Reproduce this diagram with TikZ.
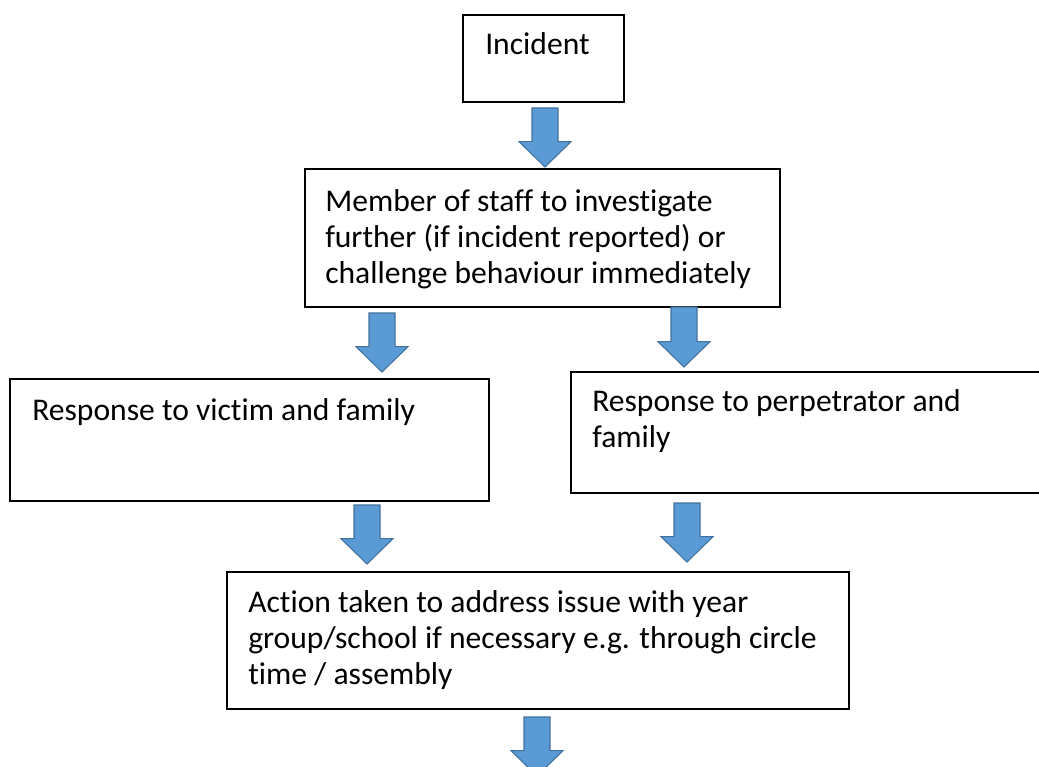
\documentclass[tikz,border=0pt]{standalone}
\usepackage{fontspec}
\setmainfont[Ligatures=NoCommon]{Carlito}
\usepackage{tikz}
\usetikzlibrary{calc}
\usetikzlibrary{fit}

\definecolor{arrowfill}{HTML}{5B9BD5}
\definecolor{arrowline}{HTML}{41719C}

\tikzset{
  box/.style={draw=black, line width=1.2pt, inner sep=0pt},
  boxtext/.style={anchor=base west, inner sep=0pt, align=left,
    font=\fontsize{23.7}{26.8}\selectfont},
  blockarr/.style={fill=arrowfill, draw=arrowline, line width=0.8pt, line join=miter}
}

% block arrow pointing down, from top centre to tip
\newcommand{\blockarrow}[2]{%
  \draw[blockarr] let \p1=(#1), \p2=(#2) in
    (\x1-9.75pt,\y1) -- (\x1+9.75pt,\y1) -- (\x1+9.75pt,\y2+19pt)
    -- (\x1+19.5pt,\y2+19pt) -- (\x1,\y2) -- (\x1-19.5pt,\y2+19pt)
    -- (\x1-9.75pt,\y2+19pt) -- cycle;}

\begin{document}
\begin{tikzpicture}[x=0.75pt,y=-0.75pt]
		\useasboundingbox (0,0) rectangle (1039,767);
		
		% draw boxes
		\node[box, fit={(463,15) (624,102)}] (incident) {};
		\node[box, fit={(305,169) (780,307)}] (investigate) {};
		\node[box, fit={(10,379) (489,501)}] (victim) {};
		\node[box, fit={(571,372) (1050,493)}] (perpetrator) {};
		\node[box, fit={(227,572) (849,709)}] (action) {};
		
		% draw texts (placed at baseline of last line)
		\node[boxtext] (incidenttxt) at (485,55) {Incident};
		\node[boxtext] (investigatetxt) at (325,283) {Member of staff to investigate\\further (if incident reported) or\\challenge behaviour immediately};
		\node[boxtext] (victimtxt) at (32,420) {Response to victim and family};
		\node[boxtext] (perpetratortxt) at (592,447) {Response to perpetrator and\\family};
		\node[boxtext] (actiontxt) at (248,684) {Action taken to address issue with year\\group/school if necessary e.g. through circle\\time / assembly};
		
		% draw arrows
		\coordinate (a1s) at (545,108); \coordinate (a1e) at (545,167);
		\coordinate (a2s) at (382,313); \coordinate (a2e) at (382,372);
		\coordinate (a3s) at (684,307); \coordinate (a3e) at (684,367);
		\coordinate (a4s) at (367,505); \coordinate (a4e) at (367,564);
		\coordinate (a5s) at (687,503); \coordinate (a5e) at (687,562);
		\coordinate (a6s) at (537,717); \coordinate (a6e) at (537,776);
		\blockarrow{a1s}{a1e}
		\blockarrow{a2s}{a2e}
		\blockarrow{a3s}{a3e}
		\blockarrow{a4s}{a4e}
		\blockarrow{a5s}{a5e}
		\blockarrow{a6s}{a6e}
		\end{tikzpicture}
\end{document}
